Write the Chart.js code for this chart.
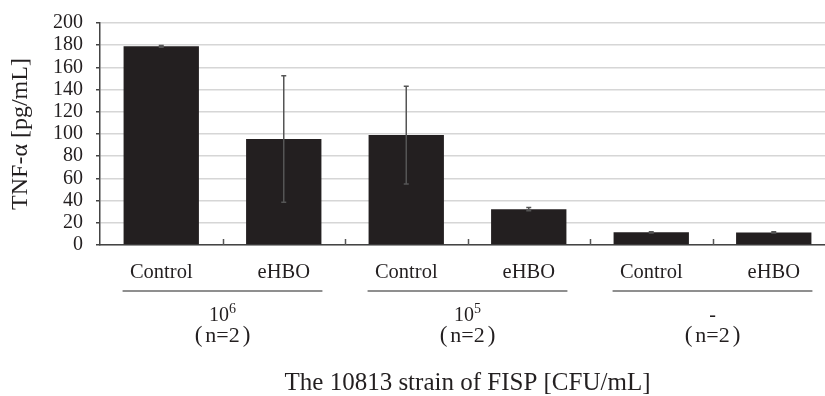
<!DOCTYPE html>
<html><head><meta charset="utf-8">
<script src="https://cdn.jsdelivr.net/npm/chart.js@4"></script>
<style>
html,body{margin:0;padding:0;overflow:hidden;background:#fff;width:825px;height:396px}
#wrap{position:absolute;left:0;top:0;width:835px;height:396px}
</style>
</head><body>
<div id="wrap"><canvas id="c" width="835" height="396"></canvas></div>
<script>
const categories = ['Control', 'eHBO', 'Control', 'eHBO', 'Control', 'eHBO'];
const tnfValues = [179, 95.5, 99, 32.3, 11.4, 11.3];
const tnfErrors = [0.8, 57, 44, 1.5, 0.6, 0.6];
const groupBase = ['10', '10', '-'];
const groupExp = ['6', '5', ''];
const groupN = ['n=2', 'n=2', 'n=2'];
const yTicks = [0, 20, 40, 60, 80, 100, 120, 140, 160, 180, 200];
const yTitle = 'TNF-α [pg/mL]';
const xTitle = 'The 10813 strain of FISP [CFU/mL]';

const SERIF = '"Liberation Serif", "Times New Roman", serif';
const TEXT = '#231f20';

const errorBars = {
  id: 'errorBars',
  afterDatasetsDraw(chart) {
    const ctx = chart.ctx, ys = chart.scales.y;
    const meta = chart.getDatasetMeta(0);
    ctx.save();
    ctx.strokeStyle = '#555';
    ctx.lineWidth = 1.5;
    meta.data.forEach((el, i) => {
      const v = tnfValues[i], e = tnfErrors[i];
      const yt = ys.getPixelForValue(v + e), yb = ys.getPixelForValue(v - e);
      ctx.beginPath();
      ctx.moveTo(el.x, yt); ctx.lineTo(el.x, yb);
      ctx.moveTo(el.x - 2.5, yt); ctx.lineTo(el.x + 2.5, yt);
      ctx.moveTo(el.x - 2.5, yb); ctx.lineTo(el.x + 2.5, yb);
      ctx.stroke();
    });
    ctx.restore();
  }
};

const groupDecor = {
  id: 'groupDecor',
  afterDraw(chart) {
    const ctx = chart.ctx, xs = chart.scales.x;
    const meta = chart.getDatasetMeta(0);
    const bottom = chart.chartArea.bottom;
    ctx.save();
    ctx.strokeStyle = '#555';
    ctx.lineWidth = 1.5;
    for (let i = 1; i < categories.length; i++) {
      const x = Math.round(xs.getPixelForValue(i - 0.5)) + 0.5;
      ctx.beginPath(); ctx.moveTo(x, bottom - 6); ctx.lineTo(x, bottom); ctx.stroke();
    }
    ctx.fillStyle = TEXT;
    for (let g = 0; g < groupBase.length; g++) {
      const a = meta.data[2 * g], b = meta.data[2 * g + 1];
      const left = a.x - a.width / 2 - 1, right = b.x + b.width / 2 + 1;
      ctx.strokeStyle = '#6a6a6a';
      ctx.lineWidth = 1.5;
      ctx.beginPath(); ctx.moveTo(left, bottom + 46); ctx.lineTo(right, bottom + 46); ctx.stroke();
      const cx = (xs.getPixelForValue(2 * g) + xs.getPixelForValue(2 * g + 1)) / 2;
      ctx.textBaseline = 'alphabetic';
      ctx.textAlign = 'left';
      ctx.font = '20px ' + SERIF;
      const wBase = ctx.measureText(groupBase[g]).width;
      ctx.font = '14px ' + SERIF;
      const wExp = groupExp[g] ? ctx.measureText(groupExp[g]).width : 0;
      const start = cx - (wBase + wExp) / 2;
      ctx.font = '20px ' + SERIF;
      ctx.fillText(groupBase[g], start, bottom + 76);
      if (groupExp[g]) {
        ctx.font = '14px ' + SERIF;
        ctx.fillText(groupExp[g], start + wBase, bottom + 68);
      }
      // "(n=2)" with wide, full-width style parentheses
      ctx.font = '22px ' + SERIF;
      ctx.textAlign = 'center';
      const wN = ctx.measureText(groupN[g]).width;
      const gap = 6;
      ctx.fillText(groupN[g], cx, bottom + 97);
      ctx.font = '23px ' + SERIF;
      ctx.textAlign = 'right';
      ctx.fillText('(', cx - wN / 2 - gap + 3, bottom + 97);
      ctx.textAlign = 'left';
      ctx.fillText(')', cx + wN / 2 + gap - 3, bottom + 97);
    }
    ctx.restore();
  }
};

new Chart(document.getElementById('c'), {
  type: 'bar',
  data: {
    labels: categories,
    datasets: [{
      data: tnfValues,
      backgroundColor: '#231f20',
      borderWidth: 0,
      barPercentage: 0.615,
      categoryPercentage: 1
    }]
  },
  options: {
    responsive: false,
    animation: false,
    layout: { padding: { top: 22, left: 0, right: 0, bottom: 0 } },
    plugins: { legend: { display: false }, tooltip: { enabled: false } },
    scales: {
      x: {
        offset: true,
        grid: { display: false, drawTicks: false },
        border: { color: '#444', width: 1.5 },
        ticks: { font: { family: SERIF, size: 20.5 }, color: TEXT, padding: 15 },
        title: { display: true, text: xTitle, color: TEXT,
                 font: { family: SERIF, size: 25, lineHeight: 1 }, padding: { top: 0, bottom: 0 } },
        afterFit: s => { s.height = 151; }
      },
      y: {
        min: 0, max: 200,
        afterBuildTicks: s => { s.ticks = yTicks.map(v => ({ value: v })); },
        grid: { color: '#d6d6d6', lineWidth: 1.5, tickColor: '#444', tickLength: 4 },
        border: { color: '#444', width: 1.5 },
        ticks: { font: { family: SERIF, size: 20, lineHeight: 1 }, color: TEXT, padding: 13, autoSkip: false },
        title: { display: true, text: yTitle, color: TEXT,
                 font: { family: SERIF, size: 24, lineHeight: 1 }, padding: { top: 9, bottom: 0 } },
        afterFit: s => { s.width = 100; }
      }
    }
  },
  plugins: [errorBars, groupDecor]
});
</script>
</body></html>
